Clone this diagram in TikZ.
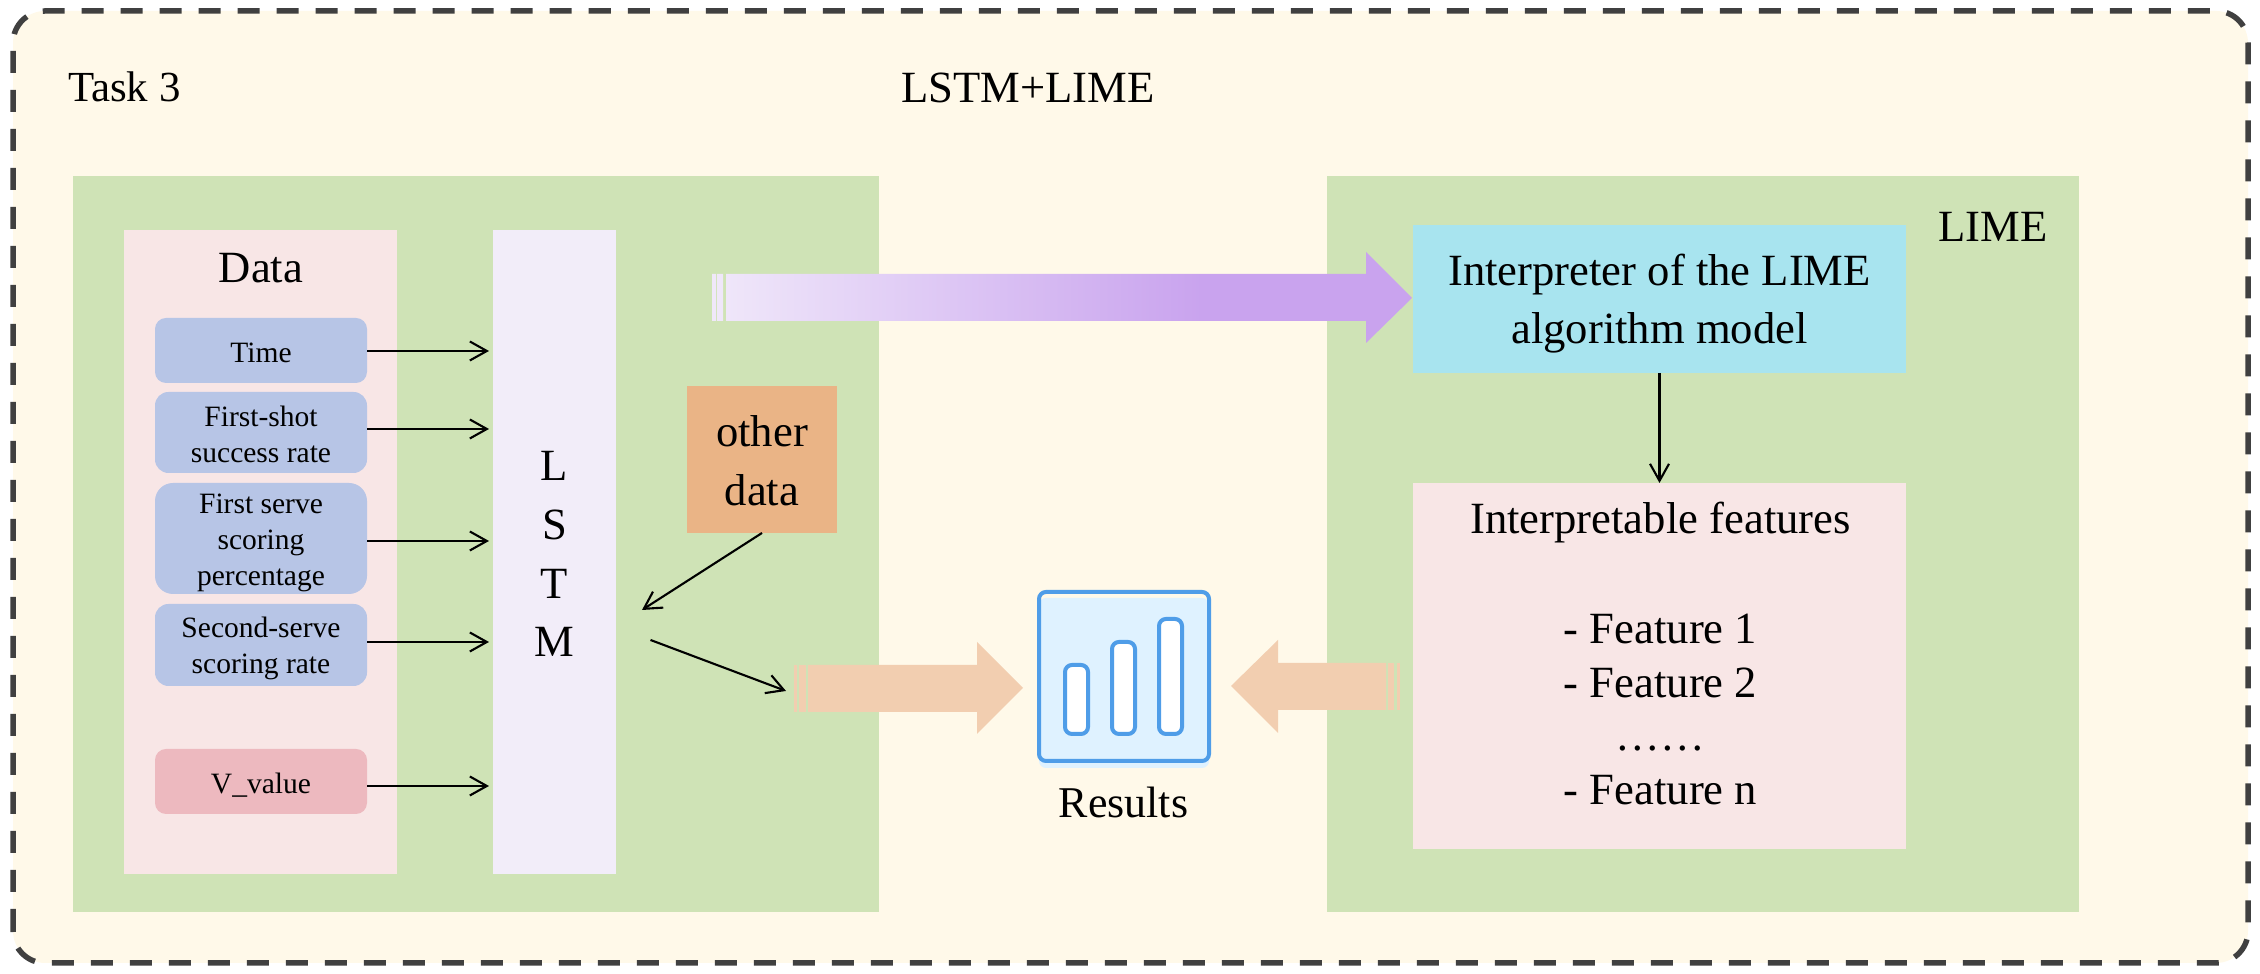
\documentclass[tikz,border=0pt]{standalone}
\usepackage{fontspec}
\setmainfont{Liberation Serif}
\usepackage{tikz}
\usetikzlibrary{calc}
\usetikzlibrary{positioning}
\usetikzlibrary{arrows.meta}
\definecolor{creamback}{HTML}{FFF9E9}
\definecolor{dashgray}{HTML}{404040}
\definecolor{panelgreen}{HTML}{CFE3B6}
\definecolor{datapink}{HTML}{F8E6E6}
\definecolor{lstmlilac}{HTML}{F2EDF9}
\definecolor{inputblue}{HTML}{B7C5E6}
\definecolor{valuerose}{HTML}{EDB9BF}
\definecolor{otherorange}{HTML}{EAB486}
\definecolor{limecyan}{HTML}{A8E4EF}
\definecolor{peacharrow}{HTML}{F2CEB0}
\definecolor{purplelight}{HTML}{F0E8FA}
\definecolor{purpledark}{HTML}{C9A3EE}
\definecolor{iconblue}{HTML}{4F9DE8}
\definecolor{iconfill}{HTML}{DFF2FF}
\pgfdeclarehorizontalshading{purplefade}{100bp}{color(0bp)=(purplelight); color(25bp)=(purplelight); color(60bp)=(purpledark); color(100bp)=(purpledark)}
\newcommand{\bigfont}{\fontsize{12.7}{16.7}\selectfont}
\newcommand{\smallfont}{\fontsize{8.4}{10.2}\selectfont}
\newcommand{\lowstrut}[1]{\rule{0pt}{#1}}
\tikzset{
	panel/.style={inner sep=0pt,outer sep=0pt,align=center,font=\bigfont},
	inputbox/.style={panel,fill=inputblue,minimum width=2.12cm,font=\smallfont},
	thinarrow/.style={-{Straight Barb[length=1.7mm,width=1.9mm]},line width=0.6pt},
	iconbar/.style={draw=iconblue,fill=white,line width=0.04cm,rounded corners=0.07cm},
}
\begin{document}
\begin{tikzpicture}
		\useasboundingbox (0,0) rectangle (22.6,9.74);
		%print outer frame
		\draw[fill=creamback,draw=dashgray,line width=0.055cm,rounded corners=0.32cm,dash pattern=on 0.22cm off 0.17cm] (0.13,0.11) rectangle (22.48,9.63);
		\node[panel,anchor=base west,font=\fontsize{12.2}{15}\selectfont] (task) at (0.68,8.72) {Task 3};
		\node[panel,anchor=base] (title) at (10.28,8.71) {LSTM+LIME};
		%print green panels
		\node[panel,fill=panelgreen,minimum width=8.06cm,minimum height=7.36cm] (left) at (4.76,4.30) {};
		\node[panel,fill=panelgreen,minimum width=7.52cm,minimum height=7.36cm] (right) at (17.03,4.30) {};
		\node[panel,anchor=base] (limelabel) at (19.93,7.32) {LIME};
		%print data column
		\node[panel,fill=datapink,minimum width=2.73cm,minimum height=6.44cm] (data) at (2.605,4.22) {};
		\node[panel,anchor=base] (datalabel) at (2.61,6.91) {Data};
		\node[inputbox,rounded corners=0.11cm,minimum height=0.65cm] (time) at (2.61,6.235) {\lowstrut{7pt}Time};
		\node[inputbox,rounded corners=0.135cm,minimum height=0.81cm] (shot) at (2.61,5.415) {\lowstrut{6.8pt}First-shot\\success rate};
		\node[inputbox,rounded corners=0.18cm,minimum height=1.11cm] (serve) at (2.61,4.355) {\lowstrut{8pt}First serve\\scoring\\percentage};
		\node[inputbox,rounded corners=0.135cm,minimum height=0.82cm] (second) at (2.61,3.29) {\lowstrut{7.7pt}Second-serve\\scoring rate};
		\node[inputbox,fill=valuerose,rounded corners=0.11cm,minimum height=0.65cm] (value) at (2.61,1.925) {\lowstrut{8pt}V\_value};
		%print lstm column and other data
		\node[panel,fill=lstmlilac,minimum width=1.23cm,minimum height=6.44cm] (lstm) at (5.545,4.22) {\lowstrut{9.6pt}L\\S\\T\\M};
		\node[panel,fill=otherorange,minimum width=1.5cm,minimum height=1.47cm] (other) at (7.62,5.145) {\lowstrut{9.5pt}other\\data};
		%print arrows into lstm
		\coordinate (in1) at (4.89,6.23);
		\coordinate (in2) at (4.89,5.45);
		\coordinate (in3) at (4.89,4.33);
		\coordinate (in4) at (4.89,3.32);
		\coordinate (in5) at (4.89,1.88);
		\coordinate (otherin) at (6.42,3.64);
		\coordinate (outstart) at (6.505,3.34);
		\coordinate (outend) at (7.86,2.83);
		\draw[thinarrow] (time.east|-in1)--(in1);
		\draw[thinarrow] (shot.east|-in2)--(in2);
		\draw[thinarrow] (serve.east|-in3)--(in3);
		\draw[thinarrow] (second.east|-in4)--(in4);
		\draw[thinarrow] (value.east|-in5)--(in5);
		\draw[thinarrow] (other.south)--(otherin);
		\draw[thinarrow] (outstart)--(outend);
		%print lime boxes
		\node[panel,fill=limecyan,minimum width=4.93cm,minimum height=1.48cm] (interp) at (16.595,6.75) {\lowstrut{11.5pt}Interpreter of the LIME\\algorithm model};
		\node[panel,fill=datapink,minimum width=4.93cm,minimum height=3.66cm] (feat) at (16.595,3.08) {};
		\node[panel,font=\fontsize{12.7}{15.2}\selectfont] (feattext) at (16.605,3.205) {Interpretable features\\[0.85pt] \\- Feature 1\\- Feature 2\\\ldots\ldots\\- Feature n};
		\draw[thinarrow] (interp.south)--(feat.north);
		%print block arrows
		\shade[shading=purplefade] (7.12,7.00)--(7.16,7.00)--(7.16,6.53)--(7.12,6.53)--cycle
			(7.17,7.00)--(7.23,7.00)--(7.23,6.53)--(7.17,6.53)--cycle
			(7.26,7.00)--(13.66,7.00)--(13.66,7.22)--(14.12,6.76)--(13.66,6.31)--(13.66,6.53)--(7.26,6.53)--cycle;
		\fill[peacharrow] (7.94,3.09) rectangle (7.97,2.62);
		\fill[peacharrow] (7.99,3.09) rectangle (8.055,2.62);
		\fill[peacharrow] (8.08,3.09)--(9.77,3.09)--(9.77,3.32)--(10.23,2.86)--(9.77,2.40)--(9.77,2.62)--(8.08,2.62)--cycle;
		\fill[peacharrow] (13.86,3.11)--(12.78,3.11)--(12.78,3.34)--(12.31,2.88)--(12.78,2.41)--(12.78,2.64)--(13.86,2.64)--cycle;
		\fill[peacharrow] (13.88,3.11) rectangle (13.94,2.64);
		\fill[peacharrow] (13.97,3.11) rectangle (14.00,2.64);
		%print results icon
		\fill[iconfill,rounded corners=0.07cm] (10.39,2.06) rectangle (12.09,3.76);
		\draw[iconblue,line width=0.04cm,rounded corners=0.07cm] (10.39,2.13) rectangle (12.09,3.82);
		\draw[iconbar] (10.65,2.40) rectangle (10.88,3.09);
		\draw[iconbar] (11.12,2.40) rectangle (11.35,3.32);
		\draw[iconbar] (11.59,2.40) rectangle (11.82,3.55);
		\node[panel,anchor=base,font=\fontsize{12.5}{15}\selectfont] (results) at (11.235,1.56) {Results};
	\end{tikzpicture}
\end{document}
